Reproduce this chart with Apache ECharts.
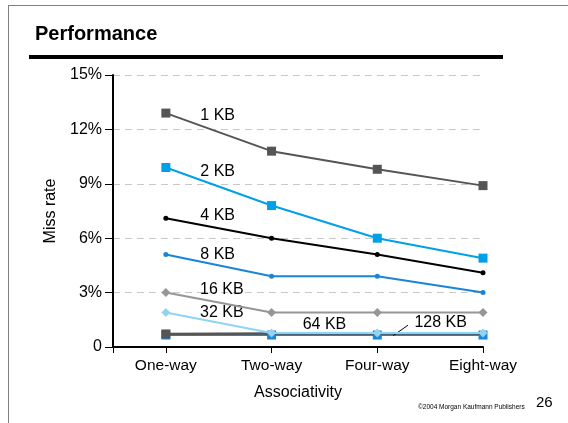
<!DOCTYPE html>
<html>
<head>
<meta charset="utf-8">
<script src="https://cdn.jsdelivr.net/npm/echarts@6/dist/echarts.min.js"></script>
<style>html,body{margin:0;padding:0;background:#fff}#c{width:568px;height:423px}</style>
</head>
<body>
<div id="c"></div>
<script>
var categories = ['One-way', 'Two-way', 'Four-way', 'Eight-way'];
var yTicks = [0, 3, 6, 9, 12, 15];
var kb1 = [12.9, 10.8, 9.8, 8.9];
var kb2 = [9.9, 7.8, 6.0, 4.9];
var kb4 = [7.1, 6.0, 5.1, 4.1];
var kb8 = [5.1, 3.9, 3.9, 3.0];
var kb16 = [3.0, 1.9, 1.9, 1.9];
var kb32 = [1.9, 0.77, 0.77, 0.77];
var kb64 = [0.72, 0.74, 0.74, 0.74];
var kb128 = [0.66, 0.66, 0.66, 0.66];
var seriesNames = ['1 KB', '2 KB', '4 KB', '8 KB', '16 KB', '32 KB', '64 KB', '128 KB'];

function pts(arr) { return arr.map(function (v, i) { return [i, v]; }); }
var font = 'Liberation Sans, Arial, sans-serif';

function lbl(name, x, y) {
  return { symbol: 'rect', symbolSize: 0, silent: true,
    label: { show: true, position: 'inside', formatter: name, color: '#000', fontSize: 16, fontFamily: font },
    data: [{ coord: [x, y] }] };
}

function mk(name, data, color, symbol, size, z, extra) {
  var s = {
    name: name, type: 'line', data: pts(data), z: z,
    lineStyle: { color: color, width: 2 },
    itemStyle: { color: color },
    symbol: symbol, symbolSize: size, showSymbol: true,
    animation: false
  };
  if (extra) for (var k in extra) s[k] = extra[k];
  return s;
}

var chart = echarts.init(document.getElementById('c'), null, { renderer: 'canvas' });
var s64 = mk(seriesNames[6], kb64, '#555555', 'rect', 9, 4, { markPoint: lbl(seriesNames[6], 1.5, 1.21) });
s64.data = s64.data.map(function (d, i) { return i === 0 ? { value: d } : { value: d, symbol: 'none' }; });
s64.lineStyle.width = 2.5;

chart.setOption({
  backgroundColor: '#fff',
  animation: false,
  grid: { left: 113, right: 85, top: 75, bottom: 76 },
  xAxis: {
    type: 'value', min: -0.5, max: 3,
    name: 'Associativity', nameLocation: 'middle', nameGap: 38,
    nameTextStyle: { fontSize: 16, color: '#000', fontFamily: font },
    axisLine: { show: true, onZero: false, lineStyle: { color: '#000', width: 2 } },
    axisTick: { show: true, customValues: [-0.5, 0, 1, 2, 3], length: 6, lineStyle: { color: '#000', width: 1 } },
    axisLabel: { customValues: [0, 1, 2, 3], margin: 11, fontSize: 15.5, color: '#000', fontFamily: font,
      formatter: function (v) { return categories[Math.round(v)]; } },
    splitLine: { show: false }
  },
  yAxis: {
    type: 'value', min: 0, max: 15, interval: 3,
    name: 'Miss rate', nameLocation: 'middle', nameGap: 54, nameRotate: 90,
    nameTextStyle: { fontSize: 16, color: '#000', fontFamily: font },
    axisLine: { show: true, onZero: false, lineStyle: { color: '#000', width: 2 } },
    axisTick: { show: true, length: 8, lineStyle: { color: '#000' } },
    axisLabel: { fontSize: 16, color: '#000', fontFamily: font, margin: 11,
      formatter: function (v) { return v === yTicks[0] ? '0' : v + '%'; } },
    splitLine: { show: true, lineStyle: { color: '#c8c8c8', type: [7, 5], width: 1 } }
  },
  series: [
    mk(seriesNames[7], kb128, '#1a88d8', 'rect', 9, 3, {
      markLine: { silent: true, symbol: 'none', animation: false,
        lineStyle: { color: '#000', width: 1, type: 'solid' }, label: { show: false },
        data: [[{ coord: [2.15, 0.63] }, { coord: [2.29, 1.2] }]] },
      markPoint: lbl(seriesNames[7], 2.6, 1.32) }),
    s64,
    mk(seriesNames[5], kb32, '#8fd3f5', 'diamond', 9, 5, { markPoint: lbl(seriesNames[5], 0.53, 1.87) }),
    mk(seriesNames[4], kb16, '#969696', 'diamond', 9, 5, { markPoint: lbl(seriesNames[4], 0.53, 3.14) }),
    mk(seriesNames[3], kb8, '#1a84d6', 'circle', 5, 5, { markPoint: lbl(seriesNames[3], 0.49, 5.07) }),
    mk(seriesNames[2], kb4, '#000000', 'circle', 5, 5, { markPoint: lbl(seriesNames[2], 0.49, 7.22) }),
    mk(seriesNames[1], kb2, '#00a0e8', 'rect', 9, 5, { markPoint: lbl(seriesNames[1], 0.49, 9.65) }),
    mk(seriesNames[0], kb1, '#555555', 'rect', 9, 5, { markPoint: lbl(seriesNames[0], 0.49, 12.74) })
  ],
  graphic: [
    { type: 'line', shape: { x1: 8, y1: 5.5, x2: 568, y2: 5.5 }, style: { stroke: '#808080', lineWidth: 1 } },
    { type: 'line', shape: { x1: 8.5, y1: 5, x2: 8.5, y2: 423 }, style: { stroke: '#808080', lineWidth: 1 } },
    { type: 'text', left: 35, top: 24, style: { text: 'Performance', font: 'bold 20px Liberation Sans, Arial, sans-serif', fill: '#000' } },
    { type: 'rect', shape: { x: 29, y: 55, width: 474, height: 4 }, style: { fill: '#000' } },
    { type: 'text', left: 418, top: 404, style: { text: '©2004 Morgan Kaufmann Publishers', font: '6.5px Liberation Sans, Arial, sans-serif', fill: '#000' } },
    { type: 'text', left: 536, top: 395, style: { text: '26', font: '15px Liberation Sans, Arial, sans-serif', fill: '#000' } }
  ]
});
</script>
</body>
</html>
